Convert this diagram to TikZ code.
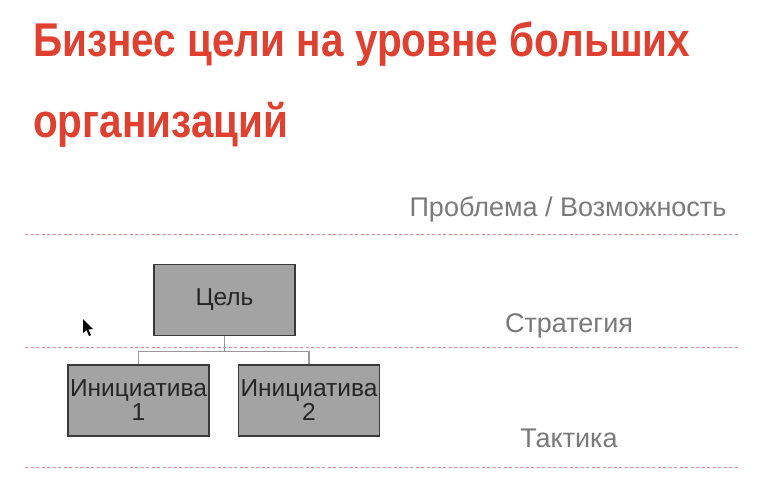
\documentclass[tikz,border=0pt]{standalone}
\usepackage{fontspec}
\usepackage{graphicx}
\setmainfont{Liberation Sans}
\definecolor{titlered}{HTML}{E0402F}
\definecolor{labelgray}{HTML}{7A7A7A}
\definecolor{boxfill}{HTML}{A3A3A3}
\definecolor{boxline}{HTML}{3A3A3A}
\definecolor{dashred}{HTML}{E88A8A}
\begin{document}
\begin{tikzpicture}[x=1pt,y=-1pt,
  box/.style={draw=boxline,line width=1.1pt,fill=boxfill,minimum width=141pt,minimum height=71pt,inner sep=0pt,align=center,font=\fontsize{24.5}{24}\selectfont,text=black!85},
  lvl/.style={font=\fontsize{27}{30}\selectfont,text=labelgray},
  ttl/.style={anchor=base west,font=\fontsize{40.5}{44}\selectfont\bfseries,text=titlered,inner sep=0pt},
  sep/.style={draw=dashred,line width=0.9pt,dash pattern=on 3pt off 2.5pt},
  conn/.style={draw=gray!80,line width=1.1pt}]
\useasboundingbox (0,0) rectangle (771,503);
\fill[white] (0,0) rectangle (771,503);
\node[ttl] (t1) at (33,57) {\scalebox{1}[1.17]{Бизнес цели на уровне больших}};
\node[ttl] (t2) at (33,137) {\scalebox{1}[1.17]{организаций}};
\coordinate (s1a) at (25,234); \coordinate (s1b) at (740,234);
\coordinate (s2a) at (25,347); \coordinate (s2b) at (740,347);
\coordinate (s3a) at (25,467); \coordinate (s3b) at (740,467);
\draw[sep] (s1a) -- (s1b);
\draw[sep] (s2a) -- (s2b);
\draw[sep] (s3a) -- (s3b);
\node[lvl] (l1) at (568,209) {Проблема / Возможность};
\node[lvl] (l2) at (569,326) {Стратегия};
\node[lvl] (l3) at (569,438) {Тактика};
\node[box] (goal) at (224.5,300) {Цель};
\node[box] (i1) at (138.5,400.5) {Инициатива\\1};
\node[box] (i2) at (309,400.5) {Инициатива\\2};
\draw[conn] (goal.south) -- ++(0,15) coordinate (j) -| (i1.north);
\draw[conn] (j) -| (i2.north);
\fill[black] (83,319) -- (83,333) -- (86.5,330) -- (89,336) -- (91,335) -- (88.5,329.5) -- (93,329) -- cycle;
\end{tikzpicture}
\end{document}
